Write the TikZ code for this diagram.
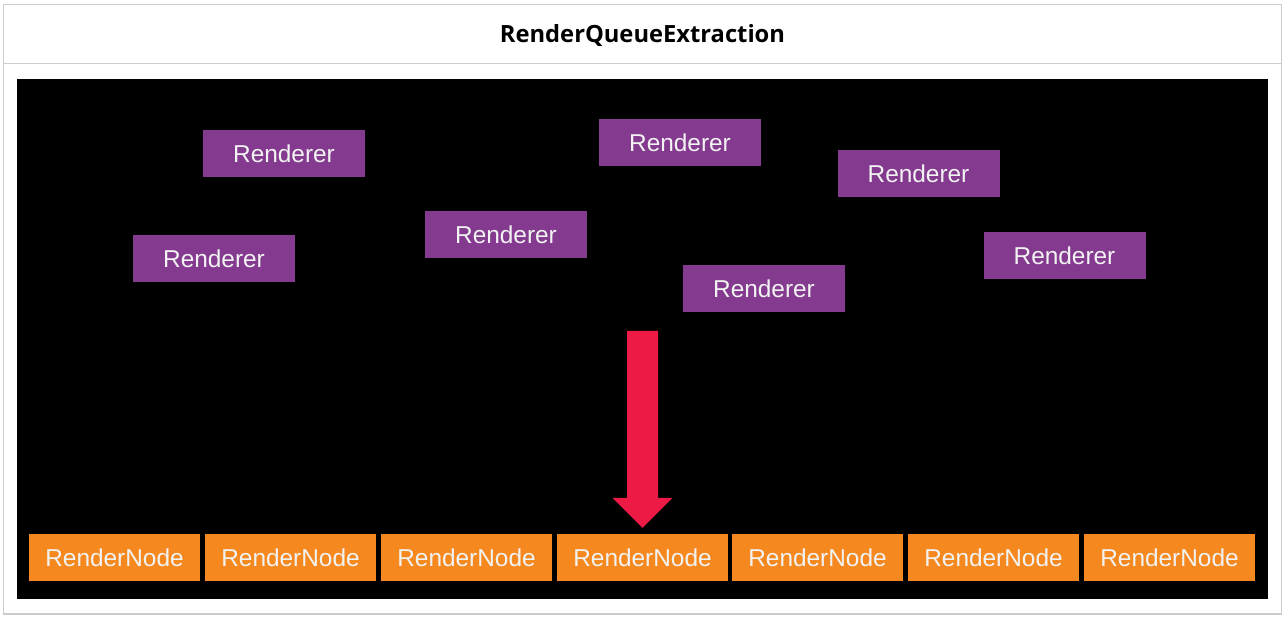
\documentclass[tikz,border=0pt]{standalone}
\usepackage{fontspec}
\setmainfont{Liberation Sans}
\newfontfamily\titlefont{Open Sans}
\definecolor{framegray}{HTML}{CCCCCC}
\definecolor{rpurple}{RGB}{132,58,143}
\definecolor{norange}{RGB}{245,137,31}
\definecolor{arrred}{RGB}{236,26,69}
\definecolor{txtwhite}{RGB}{242,242,242}
\tikzset{
  rendbox/.style={fill=rpurple, draw=none, minimum width=162pt, minimum height=47pt, inner sep=0pt,
    text=txtwhite, font=\fontsize{24.4pt}{26pt}\selectfont},
  nodebox/.style={fill=norange, draw=none, minimum width=171pt, minimum height=47pt, inner sep=0pt,
    text=txtwhite, font=\fontsize{24.4pt}{26pt}\selectfont},
}
\begin{document}
\begin{tikzpicture}[x=1pt,y=-1pt]
\useasboundingbox (0,0) rectangle (1285,619);
\fill[white] (0,0) rectangle (1285,619);
% frame
\draw[framegray, line width=1.6pt] (3.5,4.5) rectangle (1281.5,614);
\draw[framegray, line width=1.6pt] (3.5,63.5) -- (1281.5,63.5);
\node[inner sep=0pt] (title) at (642.5,35.5) {\resizebox{285pt}{!}{\titlefont\bfseries RenderQueueExtraction}};
% black panel
\fill[black] (17,79) rectangle (1268,599);
% renderers
\node[rendbox] (r1) at (284,153.5) {Renderer};
\node[rendbox] (r2) at (680,142.5) {Renderer};
\node[rendbox] (r3) at (918.5,173.5) {Renderer};
\node[rendbox] (r4) at (214,258.5) {Renderer};
\node[rendbox] (r5) at (506,234.5) {Renderer};
\node[rendbox] (r6) at (764,288.5) {Renderer};
\node[rendbox] (r7) at (1064.5,255.5) {Renderer};
% render nodes
\foreach \i/\x in {1/29,2/205,3/381,4/557,5/732,6/908,7/1084}{
  \node[nodebox] (n\i) at (\x+85.5,557.5) {RenderNode};
}
% arrow
\coordinate (tip) at ([yshift=6pt]n4.north);
\fill[arrred] (tip) -- ++(-30,-30) -- ++(14.5,0) -- ++(0,-167) -- ++(31,0) -- ++(0,167) -- ++(14.5,0) -- cycle;
\end{tikzpicture}
\end{document}
